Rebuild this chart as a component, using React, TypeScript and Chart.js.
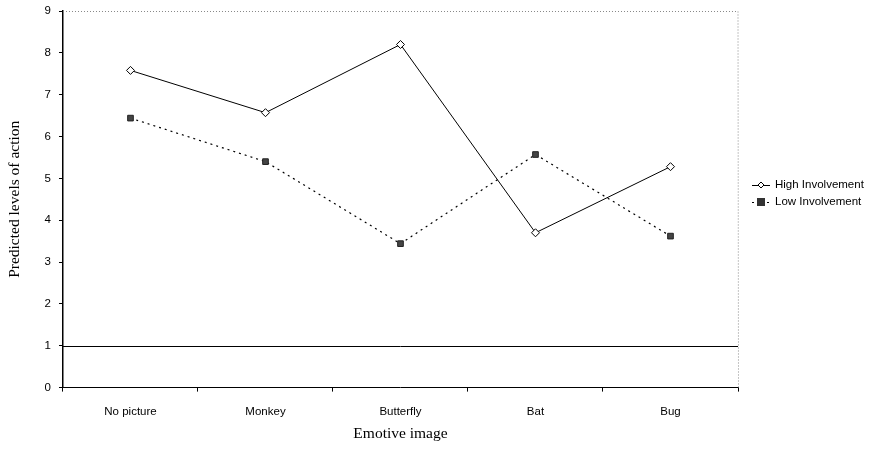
import React, { useEffect, useRef } from "react";
import { Chart, registerables } from "chart.js";

Chart.register(...registerables);

const categories = ["No picture", "Monkey", "Butterfly", "Bat", "Bug"];
const highInvolvement = [7.58, 6.57, 8.2, 3.7, 5.28];
const lowInvolvement = [6.44, 5.4, 3.44, 5.57, 3.62];
const seriesNames = ["High Involvement", "Low Involvement"];
const yTitle = "Predicted levels of action";
const xTitle = "Emotive image";

const framePlugin = {
  id: "frame",
  afterDatasetsDraw(chart: any) {
    const { ctx, chartArea } = chart;
    const y = chart.scales.y;
    ctx.save();
    const y1 = y.getPixelForValue(1);
    ctx.strokeStyle = "#000";
    ctx.lineWidth = 1;
    ctx.beginPath();
    ctx.moveTo(chartArea.left, Math.round(y1) + 0.5);
    ctx.lineTo(chartArea.right, Math.round(y1) + 0.5);
    ctx.stroke();
    ctx.strokeStyle = "#888";
    ctx.setLineDash([1, 2]);
    ctx.beginPath();
    ctx.moveTo(chartArea.left, Math.round(chartArea.top) + 0.5);
    ctx.lineTo(chartArea.right, Math.round(chartArea.top) + 0.5);
    ctx.lineTo(Math.round(chartArea.right) + 0.5, chartArea.bottom);
    ctx.stroke();
    ctx.setLineDash([]);

    const lx = 752;
    const rows = [185, 202];
    ctx.font = "11.5px 'Liberation Sans', Arial, sans-serif";
    ctx.fillStyle = "#000";
    ctx.textBaseline = "middle";
    rows.forEach((ry, i) => {
      ctx.strokeStyle = "#000";
      ctx.lineWidth = 1;
      if (i === 0) {
        ctx.beginPath();
        ctx.moveTo(lx, ry + 0.5);
        ctx.lineTo(lx + 18, ry + 0.5);
        ctx.stroke();
        ctx.fillStyle = "#fff";
        ctx.beginPath();
        ctx.moveTo(lx + 9, ry - 3);
        ctx.lineTo(lx + 12, ry);
        ctx.lineTo(lx + 9, ry + 3);
        ctx.lineTo(lx + 6, ry);
        ctx.closePath();
        ctx.fill();
        ctx.stroke();
      } else {
        ctx.setLineDash([2, 3]);
        ctx.beginPath();
        ctx.moveTo(lx, ry + 0.5);
        ctx.lineTo(lx + 18, ry + 0.5);
        ctx.stroke();
        ctx.setLineDash([]);
        ctx.fillStyle = "#333";
        ctx.fillRect(lx + 5, ry - 4, 8, 8);
      }
      ctx.fillStyle = "#000";
      ctx.fillText(seriesNames[i], lx + 23, ry);
    });
    ctx.restore();
  },
};

export default function App() {
  const ref = useRef<HTMLCanvasElement>(null);
  useEffect(() => {
    const chart = new Chart(ref.current!, {
      type: "line",
      data: {
        labels: categories,
        datasets: [
          {
            label: seriesNames[0],
            data: highInvolvement,
            borderColor: "#000",
            borderWidth: 1,
            backgroundColor: "#fff",
            pointStyle: "rectRot",
            pointRadius: 4,
            pointBorderColor: "#000",
            pointBackgroundColor: "#fff",
            pointBorderWidth: 1,
            tension: 0,
          },
          {
            label: seriesNames[1],
            data: lowInvolvement,
            borderColor: "#000",
            borderWidth: 1.2,
            borderDash: [2, 4],
            pointStyle: "rect",
            pointRadius: 4,
            pointBorderColor: "#222",
            pointBackgroundColor: "#444",
            pointBorderWidth: 1,
            tension: 0,
          },
        ],
      },
      options: {
        animation: false,
        responsive: false,
        devicePixelRatio: 1,
        layout: { padding: { top: 11, right: 134, left: 6, bottom: 9 } },
        plugins: { legend: { display: false }, tooltip: { enabled: false } },
        scales: {
          x: {
            offset: true,
            grid: {
              offset: true,
              drawOnChartArea: false,
              tickLength: 4,
              tickColor: "#000",
            },
            border: { color: "#000", width: 1 },
            ticks: {
              color: "#000",
              font: { family: "'Liberation Sans', Arial, sans-serif", size: 11.5 },
              padding: 13,
            },
            title: {
              display: true,
              text: xTitle,
              color: "#000",
              font: { family: "'Liberation Serif', 'Times New Roman', serif", size: 15.5 },
              padding: { top: -7, bottom: 0 },
            },
          },
          y: {
            min: 0,
            max: 9,
            ticks: {
              stepSize: 1,
              color: "#000",
              font: { family: "'Liberation Sans', Arial, sans-serif", size: 11.5, lineHeight: 0.5 },
              padding: 8,
            },
            grid: {
              drawOnChartArea: false,
              tickLength: 4,
              tickColor: "#000",
            },
            border: { color: "#000", width: 1.5 },
            title: {
              display: true,
              text: yTitle,
              color: "#000",
              font: { family: "'Liberation Serif', 'Times New Roman', serif", size: 15.5 },
              padding: { top: 0, bottom: 12 },
            },
          },
        },
      },
      plugins: [framePlugin],
    });
    return () => chart.destroy();
  }, []);
  return (
    <div style={{ position: "fixed", left: 0, top: 0, width: 872, height: 452, background: "#fff" }}>
      <canvas ref={ref} width={872} height={452} style={{ width: 872, height: 452 }} />
    </div>
  );
}
